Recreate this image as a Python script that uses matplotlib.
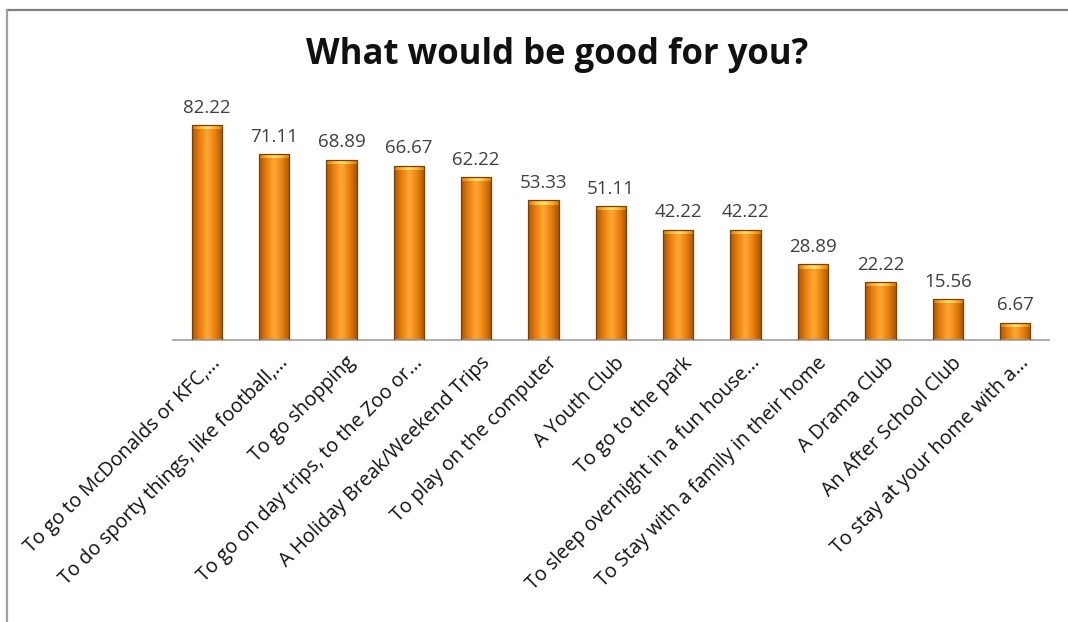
import matplotlib
matplotlib.use("Agg")
import matplotlib.pyplot as plt
import numpy as np
from matplotlib.colors import LinearSegmentedColormap
from matplotlib.lines import Line2D
import matplotlib.transforms as mtransforms

categories = [
    "To go to McDonalds or KFC,...",
    "To do sporty things, like football,...",
    "To go shopping",
    "To go on day trips, to the Zoo or...",
    "A Holiday Break/Weekend Trips",
    "To play on the computer",
    "A Youth Club",
    "To go to the park",
    "To sleep overnight in a fun house...",
    "To Stay with a family in their home",
    "A Drama Club",
    "An After School Club",
    "To stay at your home with a...",
]
values = [82.22, 71.11, 68.89, 66.67, 62.22, 53.33, 51.11, 42.22, 42.22, 28.89, 22.22, 15.56, 6.67]
title = "What would be good for you?"

plt.rcParams['font.family'] = ['Open Sans', 'DejaVu Sans']

fig = plt.figure(figsize=(10.68, 6.22), dpi=100)
ax = fig.add_axes([0.162, 0.4534, 0.820, 0.3785])

x = np.arange(len(values))
bw = 0.45
bars = ax.bar(x, values, width=bw, color='none', edgecolor='#7a4008', linewidth=0.9, zorder=3)

cmap = LinearSegmentedColormap.from_list(
    "cyl", [(0.0, '#a85404'), (0.25, '#e8800e'), (0.5, '#ffa834'), (0.75, '#e8800e'), (1.0, '#a85404')])
capmap = LinearSegmentedColormap.from_list(
    "cap", [(0.0, '#d07a10'), (0.3, '#ffc040'), (0.5, '#ffe070'), (0.7, '#ffc040'), (1.0, '#d07a10')])
grad = np.linspace(0, 1, 256).reshape(1, -1)
for xi, v, b in zip(x, values, bars):
    im = ax.imshow(grad, cmap=cmap, aspect='auto', extent=[xi - bw / 2, xi + bw / 2, 0, v],
                   zorder=2, interpolation='bicubic')
    im.set_clip_path(b)
    cap = 1.6
    im2 = ax.imshow(grad, cmap=capmap, aspect='auto',
                    extent=[xi - bw / 2, xi + bw / 2, v - cap, v], zorder=2.5, interpolation='bicubic')
    im2.set_clip_path(b)
    ax.annotate(f"{v:.2f}", xy=(xi, v), xytext=(0, 6), textcoords='offset points',
                ha='center', va='bottom', fontsize=13.5, color='#404040')

ax.set_xlim(-0.5, len(values) - 0.5)
ax.set_ylim(0, 90)
ax.set_yticks([])
ax.set_xticks(x)
ax.set_xticklabels([])
ax.tick_params(axis='x', length=0, pad=0)

offset = mtransforms.ScaledTranslation(4 / 100, -13 / 100, fig.dpi_scale_trans)
lab_tr = ax.get_xaxis_transform() + offset
for xi, cat in zip(x, categories):
    ax.text(xi, 0, cat, transform=lab_tr, rotation=45, ha='right', va='top',
            rotation_mode='anchor', fontsize=14.2, color='#111111', clip_on=False)

for s in ['top', 'right', 'left']:
    ax.spines[s].set_visible(False)
ax.spines['bottom'].set_color('#a0a0a0')
ax.spines['bottom'].set_linewidth(1.2)
ax.patch.set_alpha(0)

fig.text(557 / 1068, 1 - 55 / 622, title, ha='center', va='center', fontsize=25, fontweight='bold',
         color='#111111')

# frame lines (top & left)
fig.add_artist(Line2D([7 / 1068, 1.0], [1 - 10 / 622, 1 - 10 / 622], color='#808080', linewidth=1.6,
                      transform=fig.transFigure))
fig.add_artist(Line2D([7 / 1068, 7 / 1068], [0, 1 - 10 / 622], color='#a0a0a0', linewidth=1.6,
                      transform=fig.transFigure))

fig.savefig("out.png", dpi=100, facecolor='white')
